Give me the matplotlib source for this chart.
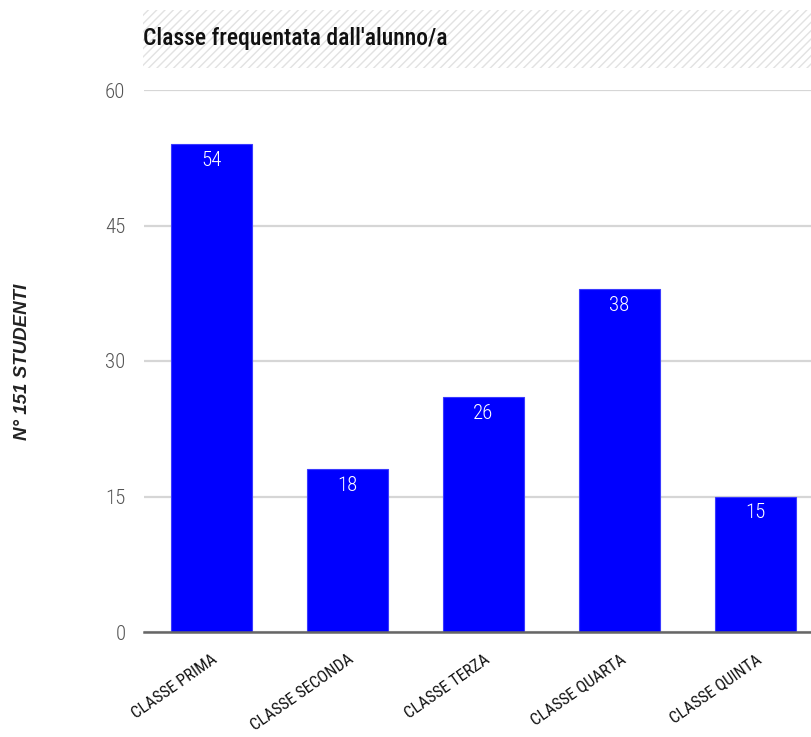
import matplotlib
matplotlib.use("Agg")
import matplotlib.pyplot as plt
from matplotlib.patches import Rectangle

categories = ["CLASSE PRIMA", "CLASSE SECONDA", "CLASSE TERZA", "CLASSE QUARTA", "CLASSE QUINTA"]
counts = [54, 18, 26, 38, 15]
yticks = [0, 15, 30, 45, 60]
title = "Classe frequentata dall'alunno/a"
ylabel = "N° 151 STUDENTI"

NARROW = ["Roboto Condensed", "Archivo Narrow", "Liberation Sans", "DejaVu Sans"]
plt.rcParams["hatch.linewidth"] = 1.0

W, H = 811, 737
fig = plt.figure(figsize=(W / 100, H / 100), dpi=100)
fig.patch.set_facecolor("white")

# axes: x from 143.5 px, 680 px wide (clipped at right edge); y 90..632 px
ax = fig.add_axes([143.5 / W, (H - 632) / H, 680 / W, 542 / H])
x = list(range(len(categories)))
ax.bar(x, counts, width=0.6, color="#0000ff", edgecolor="#3a3aff", linewidth=0.8, zorder=3)
ax.set_xlim(-0.5, len(categories) - 0.5)
ax.set_ylim(0, 60)
ax.set_yticks(yticks)
ax.set_yticklabels([str(v) for v in yticks], family=NARROW, fontsize=15, fontweight="light",
                   color="#555555")
ax.tick_params(axis="y", length=0, pad=13)
ax.grid(axis="y", color="#d6d6d6", linewidth=1.6, zorder=0)
ax.set_axisbelow(True)
for s in ["top", "right", "left"]:
    ax.spines[s].set_visible(False)
ax.spines["bottom"].set_color("#666666")
ax.spines["bottom"].set_linewidth(1.8)
ax.spines["bottom"].set_zorder(4)

ax.set_xticks(x)
ax.set_xticklabels(categories, rotation=35, ha="right", va="top", rotation_mode="anchor",
                   family=NARROW, fontsize=12, color="#111111")
ax.tick_params(axis="x", length=0, pad=14)

for xi, v in zip(x, counts):
    ax.annotate(str(v), (xi, v), xytext=(0, -5), textcoords="offset points",
                ha="center", va="top", color="white", family=NARROW, fontsize=15,
                fontweight="light", zorder=5)

# title band with hatch
rect = Rectangle((143 / W, (H - 68) / H), (W - 143) / W, 58 / H, transform=fig.transFigure,
                 facecolor="white", edgecolor="#e2e2e2", hatch="////", linewidth=0, zorder=0)
fig.patches.append(rect)
fig.text(143 / W, (H - 39) / H, title, ha="left", va="center", family=NARROW,
         fontsize=17, fontweight="medium", color="#111111")

fig.text(23 / W, (H - 362) / H, ylabel, rotation=90, ha="center", va="center",
         family=["Liberation Sans", "DejaVu Sans"], fontsize=13.5, fontweight="bold",
         style="italic", color="#222222")

fig.savefig("out.png", dpi=100)
